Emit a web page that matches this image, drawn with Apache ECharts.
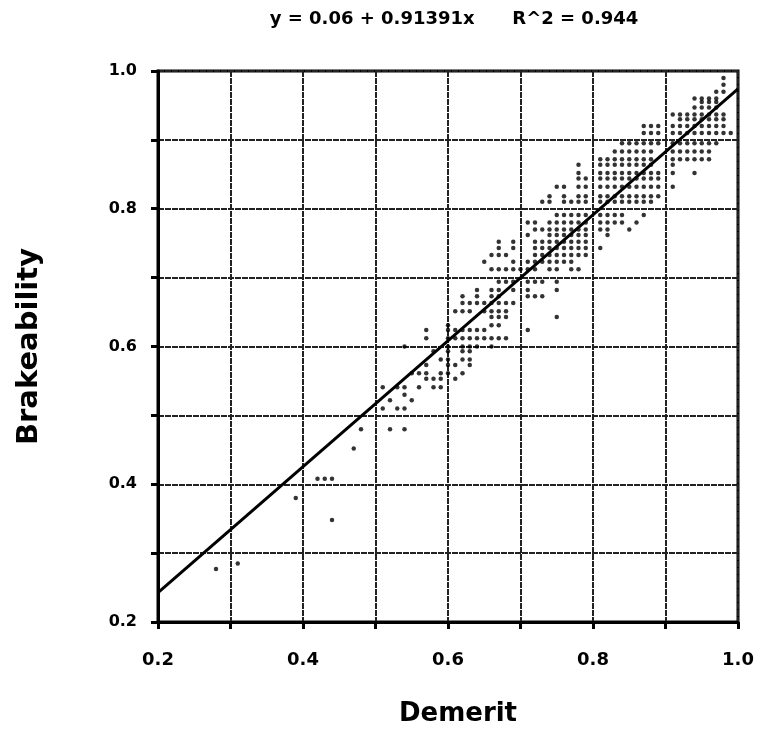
<!DOCTYPE html>
<html>
<head>
<meta charset="utf-8">
<script src="https://cdn.jsdelivr.net/npm/echarts@6/dist/echarts.min.js"></script>
<style>
  html, body { margin: 0; padding: 0; background: #fff; }
  #chart { width: 764px; height: 729px; }
</style>
</head>
<body>
<div id="chart"></div>
<script>
// Fitted line: Brakeability = intercept + slope * Demerit
const intercept = 0.06;
const slope = 0.91391;
const rSquared = 0.944;

// Labelled ticks (grid lines are drawn every 0.1)
const xTicks = [0.2, 0.4, 0.6, 0.8, 1.0];
const yTicks = [0.2, 0.4, 0.6, 0.8, 1.0];

// Observations grouped by Brakeability level (hundredths): [brakeability, [demerit values]]
const dotRows = [
  [99,   [98]],
  [98,   [98]],
  [97,   [97, 98]],
  [96,   [94, 95, 96, 97]],
  [95.5, [95, 96, 97]],
  [94.7, [94, 95, 96, 97]],
  [93.7, [91, 92, 93, 94, 95, 96, 97, 98]],
  [93,   [92, 93, 94, 95, 96, 97, 98]],
  [92,   [87, 88, 89, 91, 92, 93, 94, 95, 96, 97, 98]],
  [91,   [87, 88, 89, 91, 92, 93, 94, 95, 96, 97, 98, 99]],
  [89.5, [84, 85, 86, 87, 88, 89, 91, 92, 93, 94, 95, 96, 97]],
  [88.3, [83, 84, 85, 86, 87, 88, 91, 92, 93, 94, 95, 96]],
  [87.2, [81, 82, 83, 84, 85, 86, 87, 88, 91, 92, 93, 94, 95, 96]],
  [86.4, [78, 81, 82, 83, 84, 85, 86, 87, 88, 91]],
  [85.2, [78, 81, 82, 83, 84, 85, 86, 87, 88, 89, 91, 94]],
  [84.4, [78, 79, 81, 82, 83, 84, 85, 86, 87, 88, 89]],
  [83.2, [75, 76, 78, 79, 81, 82, 83, 84, 85, 86, 87, 88, 89, 91]],
  [81.8, [74, 76, 78, 79, 81, 82, 83, 84, 85, 86, 87, 88, 89]],
  [81,   [73, 74, 76, 77, 78, 79, 81, 82, 83, 84, 85, 86, 87, 88]],
  [79.1, [75, 76, 77, 78, 79, 81, 82, 83, 84, 87]],
  [78,   [71, 72, 74, 75, 76, 77, 78, 79, 81, 82, 83, 84, 86]],
  [77,   [72, 73, 74, 75, 76, 77, 78, 79, 81, 82, 85]],
  [76.2, [71, 74, 75, 76, 77, 78, 79, 82]],
  [75.2, [67, 69, 72, 73, 74, 75, 76, 77, 78, 79]],
  [74.3, [67, 69, 72, 73, 74, 75, 76, 77, 78, 79, 81]],
  [73.3, [66, 67, 68, 72, 73, 74, 75, 76, 77, 78, 79]],
  [72.3, [65, 69, 71, 72, 73, 74, 75, 76, 77]],
  [71.2, [66, 67, 68, 69, 70, 71, 72, 74, 75, 77, 78]],
  [69.4, [67, 68, 69, 71, 72, 73, 75]],
  [68.2, [64, 66, 67, 69, 71, 75]],
  [67.3, [62, 64, 66, 67, 71, 72, 73]],
  [66.3, [62, 63, 64, 65, 66, 67, 68, 69]],
  [65.1, [61, 62, 63, 65, 66, 67, 68]],
  [64.3, [66, 67, 68, 75]],
  [63.1, [60, 66, 67]],
  [62.4, [57, 60, 61, 62, 63, 64, 65, 71]],
  [61.2, [57, 60, 61, 62, 63, 64, 65, 66, 67, 68]],
  [60,   [54, 60, 62, 63, 64, 66]],
  [59.3, [58, 60, 62, 63]],
  [58.1, [59, 60, 62, 63]],
  [57.3, [57, 60, 61, 63]],
  [56.1, [55, 56, 57, 59, 60, 62]],
  [55.3, [57, 58, 59, 61]],
  [54.1, [51, 53, 54, 56, 58, 59]],
  [53,   [54]],
  [52.2, [52, 55]],
  [51,   [51, 53, 54]],
  [48,   [48, 52, 54]],
  [45.2, [47]],
  [40.8, [42, 43, 44]],
  [38,   [39]],
  [34.8, [44]],
  [28.5, [31]],
  [27.7, [28]]
];

// Flatten the rows into [demerit, brakeability] pairs
const points = [];
dotRows.forEach(function (row) {
  row[1].forEach(function (x) {
    points.push([x / 100, row[0] / 100]);
  });
});

// Fitted line across the full Demerit range
const xMin = 0.2, xMax = 1.0;
const fitLine = [
  [xMin, intercept + slope * xMin],
  [xMax, intercept + slope * xMax]
];

const boldFont = {
  fontFamily: 'DejaVu Sans, Liberation Sans, sans-serif',
  fontWeight: 'bold',
  color: '#000'
};

const chart = echarts.init(document.getElementById('chart'), null, { renderer: 'canvas' });

function tickFormatter(ticks) {
  return function (v) {
    const r = Math.round(v * 10) / 10;
    return ticks.some(function (t) { return Math.abs(t - r) < 1e-6; }) ? r.toFixed(1) : '';
  };
}

const gridLine = { show: true, lineStyle: { color: '#222', width: 2, type: [6, 1] } };

chart.setOption({
  animation: false,
  backgroundColor: '#fff',
  title: {
    text: 'y = 0.06 + 0.91391x      R^2 = ' + rSquared,
    left: 449,
    textAlign: 'center',
    top: 5,
    textStyle: Object.assign({}, boldFont, { fontSize: 18 })
  },
  grid: {
    left: 158, top: 71, width: 580, height: 551,
    outerBoundsMode: 'none',
    containLabel: false,
    show: true, borderColor: '#000', borderWidth: 3, backgroundColor: 'transparent'
  },
  xAxis: {
    type: 'value',
    min: 0.2, max: 1.0, interval: 0.1,
    name: 'Demerit',
    nameLocation: 'middle',
    nameGap: 79,
    nameTextStyle: Object.assign({}, boldFont, { fontSize: 26, padding: [0, 0, 0, 20] }),
    axisLine: { show: true, onZero: false, lineStyle: { color: '#000', width: 3 } },
    axisTick: { show: true, length: 7, lineStyle: { color: '#000', width: 3 } },
    axisLabel: Object.assign({}, boldFont, { fontSize: 18, margin: 29, formatter: tickFormatter(xTicks) }),
    splitLine: gridLine
  },
  yAxis: {
    type: 'value',
    min: 0.2, max: 1.0, interval: 0.1,
    name: 'Brakeability',
    nameLocation: 'middle',
    nameGap: 114,
    nameRotate: 90,
    nameTextStyle: Object.assign({}, boldFont, { fontSize: 29 }),
    axisLine: { show: true, onZero: false, lineStyle: { color: '#000', width: 3 } },
    axisTick: { show: true, length: 7, lineStyle: { color: '#000', width: 3 } },
    axisLabel: Object.assign({}, boldFont, { fontSize: 16, margin: 21, formatter: tickFormatter(yTicks) }),
    splitLine: gridLine
  },
  series: [
    {
      type: 'scatter',
      data: points,
      symbol: 'circle',
      symbolSize: 4.5,
      itemStyle: { color: '#000' },
      silent: true,
      z: 3
    },
    {
      type: 'line',
      data: fitLine,
      symbol: 'none',
      lineStyle: { color: '#000', width: 3 },
      silent: true,
      z: 4
    }
  ]
});
</script>
</body>
</html>
